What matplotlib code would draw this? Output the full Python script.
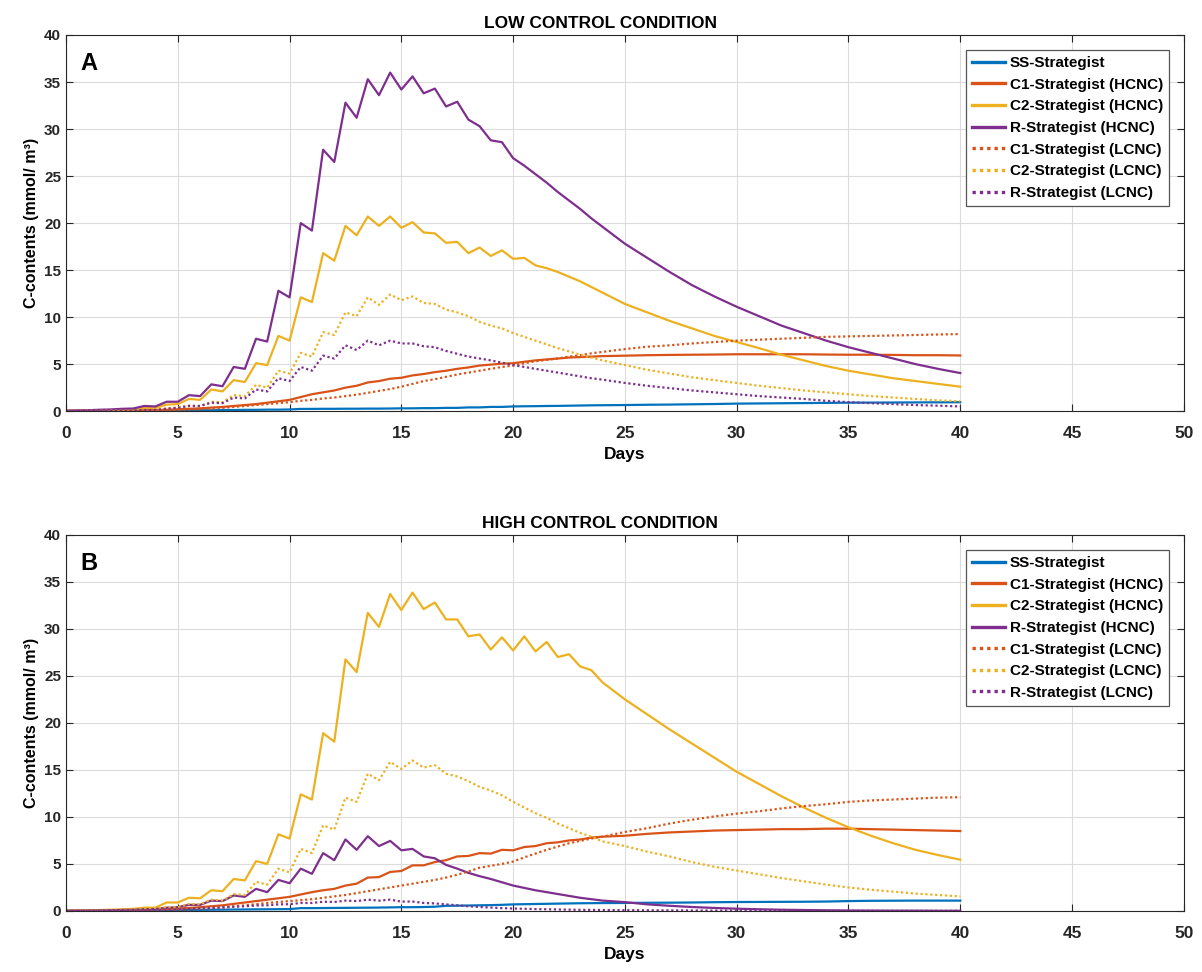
import numpy as np
import matplotlib
matplotlib.use("Agg")
import matplotlib.pyplot as plt

plt.rcParams["font.family"] = ["Liberation Sans", "DejaVu Sans"]
plt.rcParams["font.weight"] = "bold"

# time axis: half-day steps up to day 24, daily after that
days = np.concatenate([np.arange(0, 24.5, 0.5), np.arange(25, 41, 1)])

# ---- LOW CONTROL CONDITION (panel A) ----
ss_low = [0.02, 0.02, 0.03, 0.03, 0.04, 0.04, 0.05, 0.05, 0.06, 0.06,
          0.08, 0.08, 0.1, 0.1, 0.12, 0.12, 0.14, 0.14, 0.16, 0.16,
          0.18, 0.24, 0.24, 0.25, 0.25, 0.26, 0.26, 0.27, 0.27, 0.28,
          0.3, 0.3, 0.32, 0.32, 0.35, 0.35, 0.4, 0.4, 0.45, 0.45,
          0.5, 0.52, 0.53, 0.55, 0.56, 0.58, 0.6, 0.62, 0.63,
          0.65, 0.68, 0.7, 0.73, 0.76, 0.8, 0.82, 0.84, 0.86, 0.88, 0.9, 0.91, 0.92, 0.93, 0.94, 0.95]
c1_hcnc_low = [0.02, 0.03, 0.04, 0.05, 0.06, 0.07, 0.09, 0.1, 0.12, 0.15,
               0.2, 0.25, 0.3, 0.38, 0.45, 0.55, 0.65, 0.75, 0.9, 1.05,
               1.2, 1.5, 1.8, 2.0, 2.2, 2.5, 2.7, 3.05, 3.2, 3.45,
               3.55, 3.8, 3.95, 4.15, 4.3, 4.5, 4.65, 4.85, 4.95, 5.05,
               5.1, 5.25, 5.4, 5.5, 5.6, 5.7, 5.75, 5.8, 5.85,
               5.9, 5.95, 5.98, 6.0, 6.02, 6.05, 6.05, 6.05, 6.05, 6.02, 6.0, 6.0, 5.98, 5.95, 5.95, 5.92]
c2_hcnc_low = [0.03, 0.05, 0.07, 0.1, 0.12, 0.18, 0.2, 0.35, 0.33, 0.7,
               0.75, 1.3, 1.2, 2.3, 2.1, 3.3, 3.1, 5.1, 4.9, 8.0,
               7.5, 12.1, 11.6, 16.8, 16.0, 19.7, 18.7, 20.7, 19.7, 20.7,
               19.5, 20.1, 19.0, 18.9, 17.9, 18.0, 16.8, 17.4, 16.5, 17.1,
               16.2, 16.3, 15.5, 15.2, 14.8, 14.3, 13.8, 13.2, 12.6,
               11.4, 10.5, 9.6, 8.8, 8.0, 7.35, 6.7, 6.0, 5.4, 4.8, 4.3, 3.9, 3.5, 3.2, 2.9, 2.6]
r_hcnc_low = [0.05, 0.08, 0.1, 0.15, 0.18, 0.25, 0.28, 0.55, 0.5, 1.0,
              1.0, 1.7, 1.6, 2.85, 2.65, 4.7, 4.5, 7.7, 7.4, 12.8,
              12.1, 20.0, 19.2, 27.8, 26.5, 32.8, 31.2, 35.3, 33.6, 36.0,
              34.2, 35.6, 33.8, 34.3, 32.4, 32.9, 31.0, 30.3, 28.8, 28.6,
              26.9, 26.1, 25.2, 24.3, 23.3, 22.4, 21.5, 20.5, 19.6,
              17.8, 16.3, 14.8, 13.4, 12.2, 11.1, 10.1, 9.1, 8.3, 7.5, 6.8, 6.2, 5.6, 5.0, 4.5, 4.05]
c1_lcnc_low = [0.01, 0.01, 0.02, 0.02, 0.03, 0.03, 0.05, 0.06, 0.08, 0.1,
               0.13, 0.17, 0.22, 0.28, 0.35, 0.45, 0.55, 0.65, 0.75, 0.85,
               0.96, 1.1, 1.2, 1.35, 1.45, 1.6, 1.75, 1.95, 2.15, 2.35,
               2.6, 2.9, 3.2, 3.4, 3.65, 3.9, 4.1, 4.3, 4.5, 4.7,
               4.85, 5.1, 5.3, 5.45, 5.6, 5.8, 5.95, 6.15, 6.3,
               6.6, 6.85, 7.0, 7.2, 7.35, 7.5, 7.6, 7.7, 7.8, 7.9, 7.95, 8.0, 8.05, 8.1, 8.15, 8.2]
c2_lcnc_low = [0.02, 0.03, 0.04, 0.05, 0.07, 0.08, 0.1, 0.15, 0.15, 0.3,
               0.4, 0.6, 0.55, 1.0, 0.95, 1.7, 1.6, 2.8, 2.5, 4.3,
               4.0, 6.2, 5.8, 8.4, 8.1, 10.5, 10.1, 12.1, 11.3, 12.4,
               11.8, 12.2, 11.5, 11.4, 10.8, 10.5, 10.1, 9.5, 9.1, 8.8,
               8.3, 7.9, 7.5, 7.1, 6.7, 6.35, 6.0, 5.7, 5.4,
               4.9, 4.4, 4.0, 3.6, 3.3, 3.0, 2.7, 2.45, 2.2, 2.0, 1.8, 1.6, 1.45, 1.3, 1.15, 1.05]
r_lcnc_low = [0.02, 0.02, 0.03, 0.04, 0.05, 0.06, 0.08, 0.12, 0.12, 0.25,
              0.35, 0.55, 0.55, 0.9, 0.85, 1.45, 1.35, 2.3, 2.1, 3.5,
              3.2, 4.7, 4.3, 5.9, 5.6, 7.0, 6.5, 7.5, 7.0, 7.5,
              7.2, 7.2, 6.9, 6.8, 6.4, 6.1, 5.8, 5.6, 5.4, 5.15,
              4.9, 4.7, 4.5, 4.3, 4.1, 3.9, 3.7, 3.5, 3.35,
              3.0, 2.7, 2.45, 2.2, 2.0, 1.8, 1.6, 1.45, 1.3, 1.1, 0.96, 0.85, 0.75, 0.65, 0.58, 0.5]

# ---- HIGH CONTROL CONDITION (panel B) ----
ss_high = [0.02, 0.02, 0.03, 0.03, 0.04, 0.05, 0.06, 0.07, 0.08, 0.09,
           0.1, 0.11, 0.12, 0.13, 0.14, 0.15, 0.16, 0.17, 0.18, 0.19,
           0.2, 0.3, 0.3, 0.31, 0.32, 0.33, 0.34, 0.35, 0.36, 0.38,
           0.4, 0.4, 0.42, 0.45, 0.55, 0.56, 0.58, 0.6, 0.62, 0.65,
           0.7, 0.72, 0.74, 0.76, 0.78, 0.8, 0.82, 0.83, 0.84,
           0.85, 0.87, 0.88, 0.9, 0.93, 0.95, 0.96, 0.97, 0.98, 1.0, 1.05, 1.08, 1.09, 1.1, 1.1, 1.1]
c1_hcnc_high = [0.02, 0.03, 0.04, 0.05, 0.07, 0.09, 0.11, 0.14, 0.17, 0.2,
                0.25, 0.32, 0.4, 0.5, 0.6, 0.75, 0.9, 1.05, 1.2, 1.35,
                1.5, 1.75, 2.0, 2.2, 2.35, 2.7, 2.9, 3.55, 3.6, 4.15,
                4.25, 4.85, 4.85, 5.2, 5.4, 5.8, 5.85, 6.15, 6.1, 6.5,
                6.45, 6.8, 6.9, 7.2, 7.3, 7.5, 7.6, 7.8, 7.9,
                8.0, 8.2, 8.35, 8.45, 8.55, 8.6, 8.65, 8.7, 8.7, 8.75, 8.75, 8.7, 8.65, 8.6, 8.55, 8.5]
c2_hcnc_high = [0.03, 0.05, 0.07, 0.1, 0.13, 0.18, 0.22, 0.35, 0.35, 0.9,
                0.9, 1.4, 1.35, 2.2, 2.1, 3.4, 3.25, 5.3, 5.0, 8.15,
                7.7, 12.4, 11.85, 18.9, 18.0, 26.75, 25.4, 31.7, 30.2, 33.7,
                32.0, 33.85, 32.1, 32.8, 31.0, 31.0, 29.2, 29.4, 27.8, 29.1,
                27.7, 29.2, 27.6, 28.6, 27.0, 27.3, 26.0, 25.6, 24.3,
                22.5, 20.9, 19.3, 17.8, 16.3, 14.8, 13.5, 12.2, 11.0, 9.9, 8.9, 8.0, 7.2, 6.5, 5.95, 5.45]
r_hcnc_high = [0.02, 0.03, 0.04, 0.06, 0.08, 0.1, 0.12, 0.18, 0.2, 0.35,
               0.4, 0.65, 0.65, 1.1, 1.05, 1.65, 1.5, 2.35, 2.0, 3.3,
               2.95, 4.5, 3.95, 6.15, 5.4, 7.6, 6.5, 7.95, 6.9, 7.45,
               6.45, 6.6, 5.8, 5.6, 4.9, 4.5, 4.05, 3.7, 3.4, 3.05,
               2.7, 2.45, 2.2, 2.0, 1.8, 1.6, 1.4, 1.25, 1.1,
               0.94, 0.7, 0.55, 0.42, 0.32, 0.24, 0.18, 0.13, 0.1, 0.07, 0.05, 0.04, 0.03, 0.03, 0.02, 0.02]
c1_lcnc_high = [0.01, 0.01, 0.02, 0.02, 0.03, 0.04, 0.05, 0.06, 0.08, 0.1,
                0.13, 0.17, 0.22, 0.3, 0.38, 0.48, 0.6, 0.72, 0.85, 0.95,
                1.05, 1.15, 1.25, 1.4, 1.55, 1.7, 1.9, 2.1, 2.3, 2.5,
                2.7, 2.9, 3.1, 3.3, 3.55, 3.85, 4.2, 4.6, 4.8, 5.0,
                5.25, 5.7, 6.1, 6.5, 6.85, 7.2, 7.45, 7.7, 7.9,
                8.4, 8.8, 9.3, 9.7, 10.05, 10.35, 10.6, 10.9, 11.15, 11.35, 11.6, 11.75, 11.85, 11.95, 12.05, 12.1]
c2_lcnc_high = [0.02, 0.03, 0.04, 0.05, 0.07, 0.09, 0.12, 0.2, 0.2, 0.4,
                0.4, 0.75, 0.7, 1.2, 1.1, 1.8, 1.7, 3.1, 2.8, 4.5,
                4.1, 6.6, 6.15, 9.1, 8.65, 12.05, 11.6, 14.6, 13.9, 15.85,
                15.1, 16.0, 15.25, 15.5, 14.6, 14.3, 13.8, 13.2, 12.8, 12.3,
                11.6, 11.0, 10.4, 9.9, 9.3, 8.8, 8.3, 7.9, 7.4,
                6.9, 6.3, 5.8, 5.2, 4.7, 4.3, 3.9, 3.5, 3.15, 2.8, 2.5, 2.25, 2.05, 1.85, 1.7, 1.55]
r_lcnc_high = [0.01, 0.02, 0.02, 0.03, 0.04, 0.05, 0.06, 0.08, 0.1, 0.13,
               0.17, 0.22, 0.27, 0.33, 0.38, 0.45, 0.5, 0.58, 0.6, 0.7,
               0.72, 0.85, 0.85, 0.98, 0.95, 1.1, 1.05, 1.2, 1.1, 1.2,
               1.0, 1.0, 0.85, 0.8, 0.7, 0.6, 0.5, 0.42, 0.36, 0.3,
               0.26, 0.23, 0.2, 0.18, 0.16, 0.14, 0.12, 0.11, 0.1,
               0.08, 0.07, 0.06, 0.05, 0.04, 0.03, 0.03, 0.02, 0.02, 0.02, 0.02, 0.01, 0.01, 0.01, 0.01, 0.01]

labels = ["SS-Strategist", "C1-Strategist (HCNC)", "C2-Strategist (HCNC)", "R-Strategist (HCNC)",
          "C1-Strategist (LCNC)", "C2-Strategist (LCNC)", "R-Strategist (LCNC)"]

# MATLAB default colour order
BLUE, ORANGE, YELLOW, PURPLE = "#0072BD", "#D95319", "#EDB120", "#7E2F8E"
colors = [BLUE, ORANGE, YELLOW, PURPLE, ORANGE, YELLOW, PURPLE]
styles = ["-", "-", "-", "-", (0, (1, 1.2)), (0, (1, 1.2)), (0, (1, 1.2))]


def draw_panel(ax, series, title, letter):
    for vals, lab, col, ls in zip(series, labels, colors, styles):
        assert len(vals) == len(days), lab
        ax.plot(days, vals, color=col, linestyle=ls, linewidth=1.6, label=lab)

    ax.set_xlim(0, 50)
    ax.set_ylim(0, 40)
    ax.set_xticks(np.arange(0, 51, 5))
    ax.set_yticks(np.arange(0, 41, 5))
    ax.grid(True, color="#dcdcdc", linewidth=0.8)
    ax.set_axisbelow(True)
    ax.tick_params(direction="in", top=True, right=True, length=5, width=0.8, colors="#262626")
    ax.tick_params(axis="x", pad=11)
    for lab in ax.get_xticklabels():
        lab.set_fontsize(12.5)
        lab.set_fontweight("bold")
    for lab in ax.get_yticklabels():
        lab.set_fontsize(11)
        lab.set_fontweight("bold")
    for sp in ax.spines.values():
        sp.set_color("#262626")
        sp.set_linewidth(0.8)

    ax.set_xlabel("Days", fontsize=12.5, fontweight="bold", labelpad=4)
    ax.set_ylabel("C-contents (mmol/ m³)", fontsize=11.5, fontweight="bold", labelpad=4)
    ax.text(0.478, 1.019, title, transform=ax.transAxes, ha="center", va="baseline",
            fontsize=12.5, fontweight="bold")
    ax.text(0.013, 0.955, letter, transform=ax.transAxes, ha="left", va="top",
            fontsize=17, fontweight="bold")

    leg = ax.legend(loc="upper right", bbox_to_anchor=(0.987, 0.96), fontsize=11,
                    frameon=True, fancybox=False, framealpha=1, edgecolor="#555555",
                    handlelength=2.2, handletextpad=0.3, labelspacing=0.5,
                    borderpad=0.4, borderaxespad=0.0)
    leg.get_frame().set_linewidth(0.9)
    for line in leg.get_lines():
        line.set_linewidth(2.4)


def main():
    fig = plt.figure(figsize=(12.02, 9.72), dpi=100)
    ax_a = fig.add_axes([0.0549, 0.577, 0.930, 0.387])
    ax_b = fig.add_axes([0.0549, 0.0628, 0.930, 0.387])

    draw_panel(ax_a, [ss_low, c1_hcnc_low, c2_hcnc_low, r_hcnc_low,
                      c1_lcnc_low, c2_lcnc_low, r_lcnc_low],
               "LOW CONTROL CONDITION", "A")
    draw_panel(ax_b, [ss_high, c1_hcnc_high, c2_hcnc_high, r_hcnc_high,
                      c1_lcnc_high, c2_lcnc_high, r_lcnc_high],
               "HIGH CONTROL CONDITION", "B")

    fig.savefig("out.png", dpi=100)


if __name__ == "__main__":
    main()
